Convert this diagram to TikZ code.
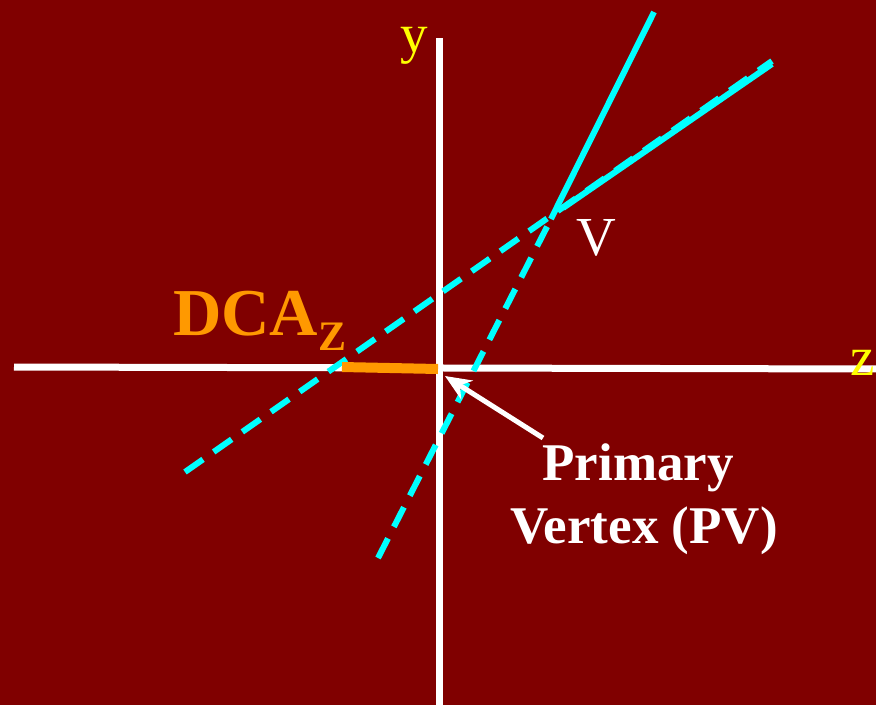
\documentclass[tikz,border=0pt]{standalone}
\usepackage{fontspec}
\setmainfont{Liberation Serif}
\usetikzlibrary{arrows.meta}
\definecolor{bg}{HTML}{800000}
\definecolor{trk}{HTML}{00FFFF}
\definecolor{orng}{HTML}{FF9900}
\definecolor{ylw}{HTML}{FFFF00}
\tikzset{
  axis/.style={draw=white, line width=7pt},
  trksolid/.style={draw=trk, line width=6pt},
  trkdash/.style={draw=trk, line width=6pt, dash pattern=on 22pt off 13pt},
  axlabel/.style={text=ylw, font=\fontsize{55}{60}\selectfont, inner sep=0pt},
  pvtext/.style={text=white, font=\fontsize{53}{60}\selectfont\bfseries, inner sep=0pt},
}
\begin{document}
\begin{tikzpicture}[x=1pt,y=-1pt]
\fill[bg] (0,0) rectangle (876,705);
\useasboundingbox (0,0) rectangle (876,705);
% coordinates
\coordinate (zl) at (14,367);
\coordinate (zr) at (880,369);
\coordinate (yt) at (439,38);
\coordinate (yb) at (439,710);
\coordinate (V) at (551,219);
\coordinate (t1a) at (185,472);
\coordinate (t1b) at (772,61);
\coordinate (t1s) at (563,208);
\coordinate (t1e) at (772,64);
\coordinate (t2a) at (378,558);
\coordinate (t2b) at (654,12);
\coordinate (dcaL) at (342,367);
\coordinate (dcaR) at (438,369);
\coordinate (pv) at (445,376);
\coordinate (arrtail) at (543,438);
% axes
\draw[axis] (zl) -- (zr);
\draw[axis] (yt) -- (yb);
% tracks
\draw[trkdash] (t1a) -- (t1b);
\draw[trkdash] (t2a) -- (V);
\draw[trksolid] (t1s) -- (t1e);
\draw[trksolid] (V) -- (t2b);
% DCA segment
\draw[orng, line width=10pt] (dcaL) -- (dcaR);
% labels
\node[axlabel, anchor=base] (ylab) at (414,52) {y};
\node[axlabel, anchor=base east] (zlab) at (875,375) {z};
\node[text=white, font=\fontsize{55}{60}\selectfont, inner sep=0pt, anchor=base west] (vlab) at (576,255) {V};
\node[text=orng, font=\fontsize{67}{70}\selectfont\bfseries, inner sep=0pt, anchor=base west] (dca) at (173,335) {DCA\raisebox{-15pt}{\fontsize{42}{44}\selectfont Z}};
\node[pvtext, anchor=base] (pv1) at (638,480) {Primary};
\node[pvtext, anchor=base] (pv2) at (644,543) {Vertex (PV)};
% arrow
\draw[white, line width=5pt, -{Stealth[length=26pt,width=22pt]}] (arrtail) -- (pv);
\end{tikzpicture}
\end{document}
